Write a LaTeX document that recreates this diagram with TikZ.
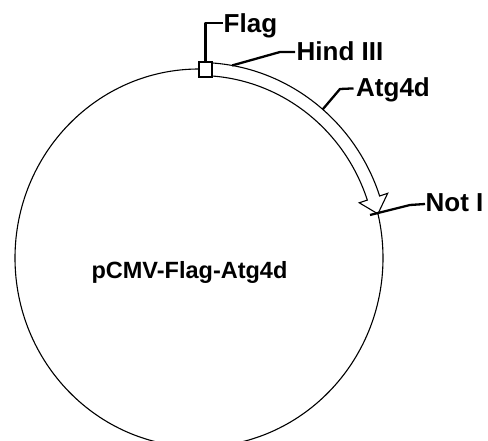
\documentclass[tikz,border=0pt]{standalone}
\usepackage{fontspec}
\setmainfont{Liberation Sans}
\usetikzlibrary{calc}
\begin{document}
\begin{tikzpicture}[x=1pt,y=1pt,
  lbl/.style={font=\fontsize{26}{30}\selectfont\bfseries, inner sep=0pt, anchor=base west},
  lead/.style={line width=2.3pt, line join=round},
  thinline/.style={line width=1.1pt}]
\useasboundingbox (0,0) rectangle (488,-441);
\coordinate (c) at (199,-258);
% plasmid ring
\draw[thinline] (c) ellipse [x radius=184pt, y radius=189pt];
% Atg4d arrow band
\draw[thinline, fill=white, line join=miter]
  ($(c)+(87:190.5pt and 195.5pt)$)
  arc[start angle=87, end angle=18.5, x radius=190.5pt, y radius=195.5pt]
  -- ($(c)+(18.5:199pt and 204pt)$)
  -- ($(c)+(13.5:184pt and 189pt)$)
  -- ($(c)+(18.5:169pt and 174pt)$)
  -- ($(c)+(18.5:177.5pt and 182.5pt)$)
  arc[start angle=18.5, end angle=87, x radius=177.5pt, y radius=182.5pt]
  -- cycle;
% Flag box
\node[draw, thinline, fill=white, minimum width=13pt, minimum height=15pt, inner sep=0pt] (flagbox) at (205.5,-69.5) {};
% labels
\node[lbl] (flag) at (223.5,-33) {Flag};
\node[lbl] (hind) at (296.5,-61) {Hind III};
\node[lbl] (atg) at (356,-97) {Atg4d};
\node[lbl] (noti) at (425.5,-212) {Not I};
\node[font=\fontsize{23.5}{27}\selectfont\bfseries, inner sep=0pt, anchor=base] (name) at (189.5,-279) {pCMV-Flag-Atg4d};
% leader start points
\coordinate (hs) at ($(c)+(80:190.5pt and 195.5pt)$);
\coordinate (as) at ($(c)+(49.5:190.5pt and 195.5pt)$);
\coordinate (ns) at (370,-215);
\coordinate (hb) at (280,-52);
\coordinate (ab) at (340,-89);
\coordinate (nb) at (410,-205);
% leaders
\draw[lead] (flagbox.north) |- ($(flag.base west)+(-1,10)$);
\draw[lead] (hs) -- (hb) -- ($(hind.base west)+(-1.5,9)$);
\draw[lead] (as) -- (ab) -- ($(atg.base west)+(-2.5,8.6)$);
\draw[lead] (ns) -- (nb) -- ($(noti.base west)+(-0.5,8)$);
\end{tikzpicture}
\end{document}
